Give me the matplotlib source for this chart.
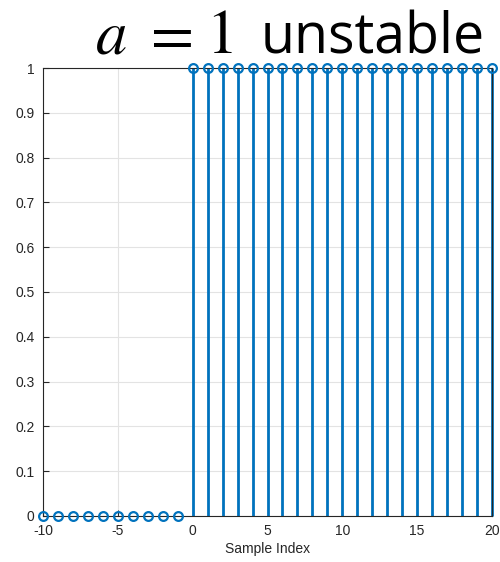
import numpy as np
import matplotlib.pyplot as plt

plt.rcParams['mathtext.fontset'] = 'stix'
plt.rcParams['axes.unicode_minus'] = False
plt.rcParams['font.family'] = ['Liberation Sans', 'DejaVu Sans']

# data
n = list(range(-10, 21))
h = [0] * 10 + [1] * 21
xticks = [-10, -5, 0, 5, 10, 15, 20]
yticks = [0, 0.1, 0.2, 0.3, 0.4, 0.5, 0.6, 0.7, 0.8, 0.9, 1]
ytick_labels = ['0', '0.1', '0.2', '0.3', '0.4', '0.5', '0.6', '0.7', '0.8', '0.9', '1']

blue = '#0072BD'

fig = plt.figure(figsize=(5, 5.62), dpi=100, facecolor='white')
ax = fig.add_axes([0.086, 0.082, 0.898, 0.797])

markerline, stemlines, baseline = ax.stem(n, h, basefmt=' ')
plt.setp(stemlines, color=blue, linewidth=2.0)
plt.setp(markerline, color=blue, marker='o', markersize=6.3,
         markerfacecolor='none', markeredgewidth=1.6, clip_on=False, zorder=5)
stemlines.set_clip_on(False)

ax.set_xlim(-10, 20)
ax.set_ylim(0, 1)
ax.set_xticks(xticks)
ax.set_yticks(yticks)
ax.set_yticklabels(ytick_labels)
ax.tick_params(direction='in', length=4, width=0.8, colors='#262626',
               labelsize=10)
ax.tick_params(axis='y', pad=6)
ax.tick_params(axis='x', pad=6)
for s in ax.spines.values():
    s.set_color('#262626')
    s.set_linewidth(0.8)
ax.grid(True, color='#e3e3e3', linewidth=0.8)
ax.set_axisbelow(True)
ax.set_xlabel('Sample Index', fontsize=10, color='#262626', labelpad=3)

# title pieces: serif math + sans word
ty = 1 - 53 / 562
fig.text(95 / 500, ty, r'$a$', ha='left', va='baseline', fontsize=45)
fig.text(166 / 500, ty, r'$=$', ha='center', va='baseline', fontsize=45)
fig.text(219 / 500, ty, r'$1$', ha='center', va='baseline', fontsize=45)
fig.text(485 / 500, ty, 'unstable', ha='right', va='baseline',
         fontsize=40, family='Open Sans', color='black')

fig.savefig('out.png', dpi=100)
